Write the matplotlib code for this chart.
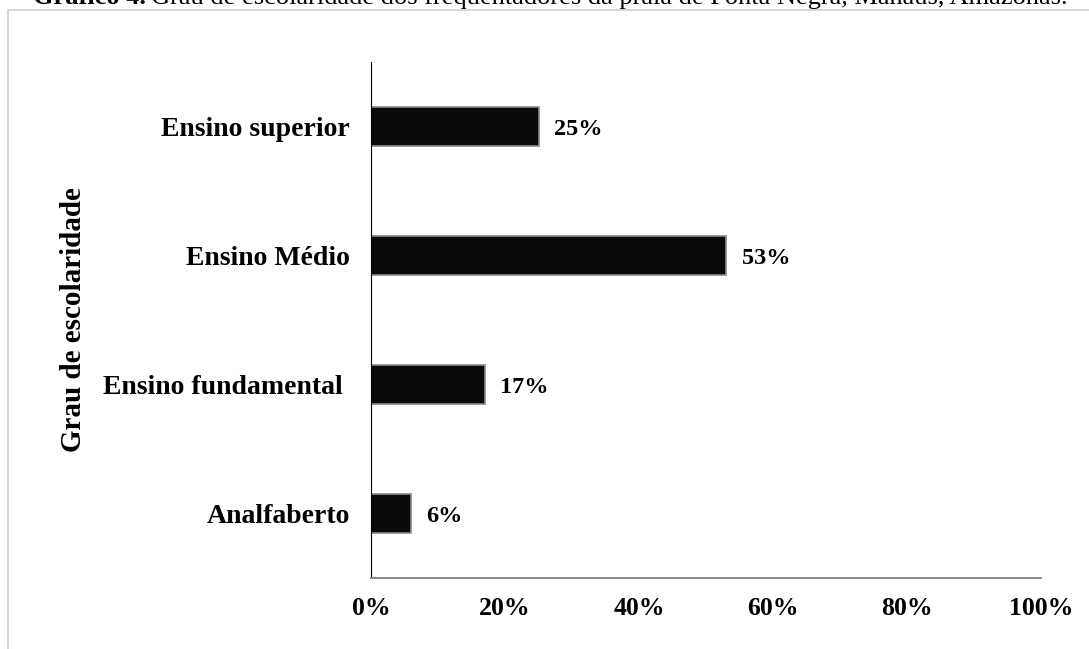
import matplotlib
matplotlib.use("Agg")
import matplotlib.pyplot as plt
from matplotlib.patches import Rectangle

plt.rcParams['font.family'] = ['Liberation Serif', 'DejaVu Serif']

categorias = ["Analfaberto", "Ensino fundamental ", "Ensino Médio", "Ensino superior"]
valores = [6, 17, 53, 25]
rotulos = ["6%", "17%", "53%", "25%"]
xticks = [0, 20, 40, 60, 80, 100]
xtick_labels = ["0%", "20%", "40%", "60%", "80%", "100%"]

fig = plt.figure(figsize=(10.89, 6.49), dpi=100)
ax = fig.add_axes([371/1089, 1-578/649, (1041-371)/1089, (578-62)/649])

y = list(range(len(categorias)))
ax.barh(y, valores, height=0.31, color='#0a0a0a', edgecolor='#8a8a8a', linewidth=1.2)
for yi, v, r in zip(y, valores, rotulos):
    ax.text(v + 2.3, yi - 0.02, r, va='center', ha='left', fontsize=17.5, fontweight='bold')

ax.set_xlim(0, 100)
ax.set_ylim(-0.5, len(categorias) - 0.5)
ax.set_yticks(y)
ax.set_yticklabels(categorias, fontsize=20, fontweight='bold')
ax.set_xticks(xticks)
ax.set_xticklabels(xtick_labels, fontsize=18.5, fontweight='bold')
ax.tick_params(axis='both', length=0)
ax.tick_params(axis='y', pad=15)
ax.tick_params(axis='x', pad=14)
for s in ['top', 'right']:
    ax.spines[s].set_visible(False)
ax.spines['left'].set_color('black')
ax.spines['bottom'].set_color('#8c8c8c')
ax.spines['bottom'].set_linewidth(1.5)
ax.set_ylabel("Grau de escolaridade", fontsize=21, fontweight='bold', labelpad=12)

# moldura do grafico
fig.patches.append(Rectangle((8/1089, -0.1), 1.0, 1 - 10/649 + 0.1, transform=fig.transFigure,
                             fill=False, edgecolor='#d0d0d0', linewidth=1.2))

# titulo cortado no topo
t1 = fig.text(33/1089, 1 - 4/649, "Gráfico 4.", fontsize=19, fontweight='bold', va='baseline')
fig.canvas.draw()
bb = t1.get_window_extent()
fig.text((bb.x1 + 5)/1089, 1 - 4/649,
         "Grau de escolaridade dos frequentadores da praia de Ponta Negra, Manaus, Amazonas.",
         fontsize=19, va='baseline')

fig.savefig("out.png", dpi=100)
